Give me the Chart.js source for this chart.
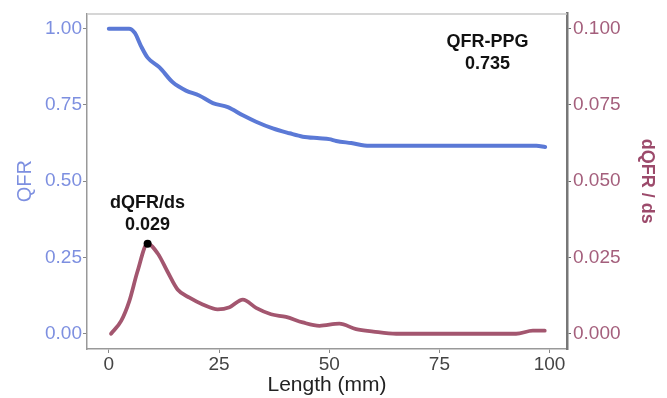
<!DOCTYPE html>
<html>
<head>
<meta charset="utf-8">
<script src="https://cdn.jsdelivr.net/npm/chart.js@4/dist/chart.umd.min.js"></script>
<style>
html,body{margin:0;padding:0;background:#fff;}
#wrap{width:667px;height:398px;}
</style>
</head>
<body>
<div id="wrap"><canvas id="c" width="667" height="398"></canvas></div>
<script>
// ---- data ----
const qfrLength = [0, 4.6, 5.9, 7.3, 8.8, 11.5, 14.5, 17.5, 20.5, 23.6, 27, 30.4, 33.4, 37.2, 41, 44, 47.8, 50, 51.6, 55, 59.1, 65, 72.8, 80, 87.9, 93, 97, 99];
const qfrValues = [1.0, 1.0, 0.986, 0.943, 0.905, 0.873, 0.824, 0.797, 0.781, 0.756, 0.743, 0.716, 0.695, 0.673, 0.657, 0.646, 0.641, 0.638, 0.632, 0.625, 0.616, 0.616, 0.616, 0.616, 0.616, 0.616, 0.616, 0.612];

const dqLength = [0.5, 2.8, 4.65, 6.5, 8.8, 11.1, 13.3, 15.6, 18.3, 21.3, 24.7, 27.4, 30.4, 33.4, 36.8, 40.2, 44, 47.8, 52.3, 56.1, 60, 65.2, 72.8, 80, 87.9, 92.4, 96.2, 98.9];
const dqValues = [0, 0.0042, 0.0107, 0.0204, 0.0295, 0.0263, 0.0204, 0.0145, 0.0118, 0.0096, 0.008, 0.0087, 0.0112, 0.0085, 0.0064, 0.0055, 0.0037, 0.0026, 0.0033, 0.0015, 0.0007, 0, 0, 0, 0, 0, 0.001, 0.001];

const xTicks = [0, 25, 50, 75, 100];
const qfrTicks = [0, 0.25, 0.5, 0.75, 1.0];
const dqTicks = [0, 0.025, 0.05, 0.075, 0.1];

const xTitle = 'Length (mm)';
const yTitle = 'QFR';
const y2Title = 'dQFR / ds';
const ppgLabel = ['QFR-PPG', '0.735'];
const peakLabel = ['dQFR/ds', '0.029'];
const ppgAnchor = {x: 85.9, y: 0.955};

// ---- derived ----
const qfrData = qfrLength.map((x, i) => ({x, y: qfrValues[i]}));
const dqData = dqLength.map((x, i) => ({x, y: dqValues[i]}));
let peakIdx = 0;
dqValues.forEach((v, i) => { if (v > dqValues[peakIdx]) peakIdx = i; });
const peakData = [{x: dqLength[peakIdx], y: dqValues[peakIdx]}];

const BLUE = '#5b79d6';
const MAROON = '#a3566f';
const BLUE_TXT = '#7d8fe0';
const MAROON_TXT = '#a45f7c';
const FONT = "'Liberation Sans', Arial, sans-serif";

const bgPlugin = {
  id: 'bg',
  beforeDraw(chart) {
    const ctx = chart.ctx;
    ctx.save();
    ctx.fillStyle = '#fff';
    ctx.fillRect(0, 0, chart.width, chart.height);
    ctx.restore();
  },
  afterDraw(chart) {
    const {ctx, chartArea: a, scales} = chart;
    ctx.save();
    // top border of panel
    ctx.strokeStyle = '#c8c8c8';
    ctx.lineWidth = 1.5;
    ctx.beginPath();
    ctx.moveTo(a.left, a.top + 0.5);
    ctx.lineTo(a.right, a.top + 0.5);
    ctx.stroke();
    // annotations
    ctx.fillStyle = '#111';
    ctx.font = 'bold 18px ' + FONT;
    ctx.textAlign = 'center';
    ctx.textBaseline = 'middle';
    const px = scales.x.getPixelForValue(ppgAnchor.x);
    const py = scales.y.getPixelForValue(ppgAnchor.y);
    ctx.fillText(ppgLabel[0], px, py);
    ctx.fillText(ppgLabel[1], px, py + 22);
    const kx = scales.x.getPixelForValue(peakData[0].x);
    const ky = scales.y2.getPixelForValue(peakData[0].y);
    ctx.fillText(peakLabel[0], kx, ky - 41);
    ctx.fillText(peakLabel[1], kx, ky - 19);
    ctx.restore();
  }
};

new Chart(document.getElementById('c'), {
  type: 'scatter',
  data: {
    datasets: [
      {label: 'QFR', data: qfrData, yAxisID: 'y', showLine: true, borderColor: BLUE, borderWidth: 4, order: 2,
       pointRadius: 0, cubicInterpolationMode: 'monotone', borderCapStyle: 'round', borderJoinStyle: 'round'},
      {label: 'dQFR', data: dqData, yAxisID: 'y2', showLine: true, borderColor: MAROON, borderWidth: 3.8, order: 1,
       pointRadius: 0, cubicInterpolationMode: 'monotone', borderCapStyle: 'round', borderJoinStyle: 'round'},
      {label: 'peak', data: peakData, yAxisID: 'y2', showLine: false, pointRadius: 4, order: 0,
       pointBackgroundColor: '#000', pointBorderColor: '#000', borderWidth: 0}
    ]
  },
  options: {
    responsive: false,
    animation: false,
    layout: {padding: {top: 9, left: 0, right: 0, bottom: 0}},
    plugins: {legend: {display: false}, tooltip: {enabled: false}},
    scales: {
      x: {
        type: 'linear', min: -4.95, max: 103.95,
        afterBuildTicks: s => { s.ticks = xTicks.map(v => ({value: v})); },
        afterFit: s => { s.height = 49; },
        grid: {display: true, drawOnChartArea: false, drawTicks: true, tickLength: 4, color: '#888', lineWidth: 1},
        border: {display: true, color: '#999', width: 1.5},
        ticks: {color: '#444', font: {family: FONT, size: 19}, padding: 0, maxRotation: 0},
        title: {display: true, text: xTitle, color: '#222', font: {family: FONT, size: 21}, padding: {top: 0, bottom: 0}}
      },
      y: {
        type: 'linear', position: 'left', min: -0.05, max: 1.05,
        afterBuildTicks: s => { s.ticks = qfrTicks.map(v => ({value: v})); },
        afterFit: s => { s.width = 87; },
        grid: {display: true, drawOnChartArea: false, drawTicks: true, tickLength: 4, color: '#888', lineWidth: 1},
        border: {display: true, color: '#999', width: 1.5},
        ticks: {color: BLUE_TXT, font: {family: FONT, size: 19}, padding: 1, callback: v => v.toFixed(2)},
        title: {display: true, text: yTitle, color: BLUE_TXT, font: {family: FONT, size: 20}, padding: {top: 13, bottom: 0}}
      },
      y2: {
        type: 'linear', position: 'right', min: -0.005, max: 0.105,
        afterBuildTicks: s => { s.ticks = dqTicks.map(v => ({value: v})); },
        afterFit: s => { s.width = 100; },
        grid: {display: true, drawOnChartArea: false, drawTicks: true, tickLength: 4, color: '#666', lineWidth: 1},
        border: {display: true, color: '#777', width: 2.5},
        ticks: {color: MAROON_TXT, font: {family: FONT, size: 19}, padding: 2, callback: v => v.toFixed(3)},
        title: {display: true, text: y2Title, color: '#9c4a6b', font: {family: FONT, size: 18, weight: 'bold'}, padding: {top: 9, bottom: 0}}
      }
    }
  },
  plugins: [bgPlugin]
});
</script>
</body>
</html>
